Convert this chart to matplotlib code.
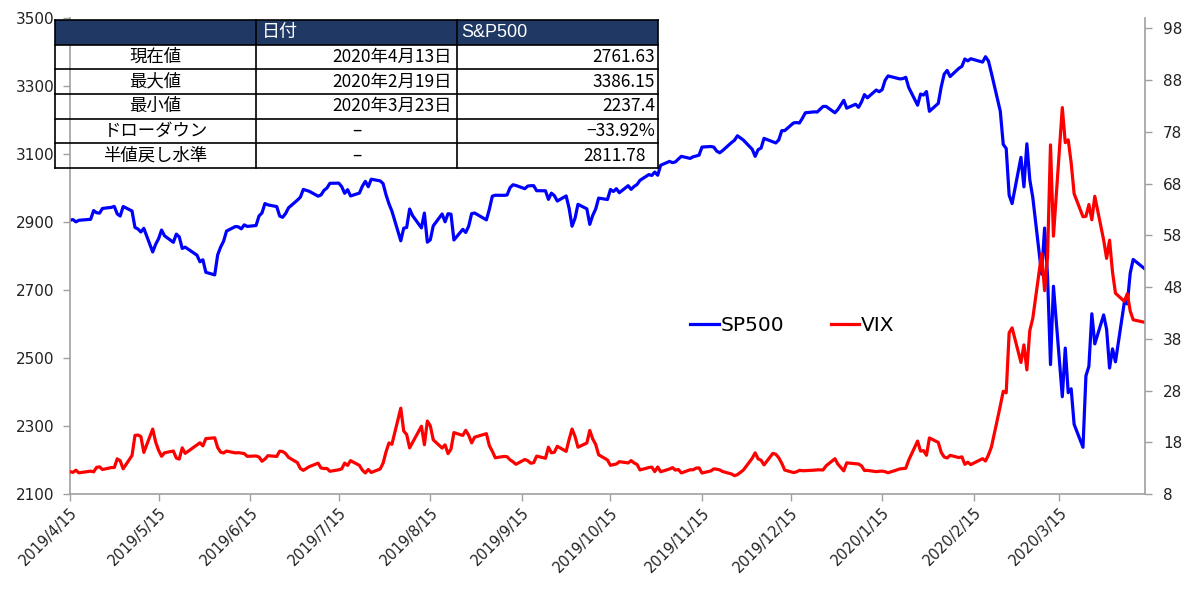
import matplotlib
matplotlib.use('Agg')
import matplotlib.pyplot as plt
from matplotlib.patches import Rectangle
import pandas as pd

# trading days 2019/4/15 - 2020/4/13 (US market holidays removed)
holidays = ['2019-04-19', '2019-05-27', '2019-07-04', '2019-09-02', '2019-11-28',
            '2019-12-25', '2020-01-01', '2020-01-20', '2020-02-17', '2020-04-10']
dates = pd.bdate_range('2019-04-15', '2020-04-13')
dates = dates[~dates.isin(pd.to_datetime(holidays))]

sp500 = [
    # 2019/4
    2905.58, 2907.06, 2900.45, 2905.03, 2907.97, 2933.68, 2927.25, 2926.17, 2939.88, 2943.03, 2945.83,
    # 2019/5
    2923.73, 2917.52, 2945.64, 2932.47, 2884.05, 2879.42, 2870.72, 2881.40, 2811.87, 2834.41, 2850.96,
    2876.32, 2859.53, 2840.23, 2864.36, 2856.27, 2822.24, 2826.06, 2802.39, 2783.02, 2788.86, 2752.06,
    # 2019/6
    2744.45, 2803.27, 2826.15, 2843.49, 2873.34, 2886.73, 2885.72, 2879.84, 2891.64, 2886.98,
    2889.67, 2917.75, 2926.46, 2954.18, 2950.46, 2945.35, 2917.38, 2913.78, 2924.92, 2941.76,
    # 2019/7
    2964.33, 2973.01, 2995.82, 2990.41, 2975.95, 2979.63, 2993.07, 2999.91, 3013.77, 3014.30, 3004.04,
    2984.42, 2995.11, 2976.61, 2985.03, 3005.47, 3019.56, 3003.67, 3025.86, 3020.97, 3013.18, 2980.38,
    # 2019/8
    2953.56, 2932.05, 2844.74, 2881.77, 2883.98, 2938.09, 2918.65, 2882.70, 2926.32, 2840.60, 2847.60,
    2888.68, 2923.65, 2900.51, 2924.43, 2922.95, 2847.11, 2878.38, 2869.16, 2887.94, 2924.58, 2926.46,
    # 2019/9
    2906.27, 2937.78, 2976.00, 2978.71, 2978.43, 2979.39, 3000.93, 3009.57, 3007.39, 2997.96,
    3005.70, 3006.73, 3006.79, 2992.07, 2991.78, 2966.60, 2984.87, 2977.62, 2961.79, 2976.74,
    # 2019/10
    2940.25, 2887.61, 2910.63, 2952.01, 2938.79, 2893.06, 2919.40, 2938.13, 2970.27, 2966.15, 2995.68, 2989.69,
    2997.95, 2986.20, 3006.72, 2995.99, 3004.52, 3010.29, 3022.55, 3039.42, 3036.89, 3046.77, 3037.56,
    # 2019/11
    3066.91, 3078.27, 3074.62, 3076.78, 3085.18, 3093.08, 3087.01, 3091.84, 3094.04, 3096.63,
    3120.46, 3122.03, 3120.18, 3108.46, 3103.54, 3110.29, 3133.64, 3140.52, 3153.63, 3140.98,
    # 2019/12
    3113.87, 3093.20, 3112.76, 3117.43, 3145.91, 3135.96, 3132.52, 3141.63, 3168.57, 3168.80, 3191.45,
    3192.52, 3191.14, 3205.37, 3221.22, 3224.01, 3223.38, 3239.91, 3240.02, 3221.29, 3230.78,
    # 2020/1
    3257.85, 3234.85, 3246.28, 3237.18, 3253.05, 3274.70, 3265.35, 3288.13, 3283.15, 3289.29, 3316.81,
    3329.62, 3320.79, 3321.75, 3325.54, 3295.47, 3243.63, 3276.24, 3273.40, 3283.66, 3225.52,
    # 2020/2
    3248.92, 3297.59, 3334.69, 3345.78, 3327.71, 3352.09, 3357.75, 3379.45, 3373.94, 3380.16,
    3370.29, 3386.15, 3373.23, 3337.75, 3225.89, 3128.21, 3116.39, 2978.76, 2954.22,
    # 2020/3
    3090.23, 3003.37, 3130.12, 3023.94, 2972.37, 2746.56, 2882.23, 2741.38, 2480.64, 2711.02, 2386.13,
    2529.19, 2398.10, 2409.39, 2304.92, 2237.40, 2447.33, 2475.56, 2630.07, 2541.47, 2626.65, 2584.59,
    # 2020/4
    2470.50, 2526.90, 2488.65, 2663.68, 2659.41, 2749.98, 2789.82, 2761.63,
]

vix = [
    # 2019/4
    12.32, 12.18, 12.60, 12.09, 12.42, 12.28, 13.14, 13.25, 12.73, 13.11, 13.12,
    # 2019/5
    14.80, 14.42, 12.87, 15.44, 19.32, 19.40, 19.10, 16.04, 20.55, 18.06, 16.44,
    15.29, 15.96, 16.31, 14.95, 14.75, 16.92, 15.85, 17.50, 17.90, 17.30, 18.71,
    # 2019/6
    18.86, 16.97, 16.09, 15.93, 16.30, 15.94, 15.99, 15.91, 15.82, 15.28,
    15.35, 15.15, 14.33, 14.75, 15.40, 15.26, 16.28, 16.21, 15.82, 15.08,
    # 2019/7
    14.06, 12.93, 12.57, 13.28, 13.96, 13.03, 12.93, 12.93, 12.39, 12.68, 12.86,
    13.97, 13.53, 14.45, 13.53, 12.61, 12.07, 12.74, 12.16, 12.83, 13.94, 16.12,
    # 2019/8
    17.87, 17.61, 24.59, 20.17, 19.49, 16.91, 17.97, 21.09, 17.52, 22.10, 21.18,
    18.47, 16.88, 17.50, 15.80, 16.68, 19.87, 19.32, 20.31, 19.35, 17.88, 18.98,
    # 2019/9
    19.66, 17.33, 16.27, 15.00, 15.27, 15.20, 14.61, 14.22, 13.74, 14.67,
    14.44, 13.95, 14.05, 15.32, 14.91, 17.05, 15.96, 16.07, 17.22, 16.24,
    # 2019/10
    18.56, 20.56, 19.12, 17.04, 17.86, 20.28, 18.64, 17.57, 15.58, 14.57, 13.54, 13.68,
    13.79, 14.25, 14.00, 14.46, 14.01, 13.71, 12.65, 13.11, 13.20, 12.33, 13.22,
    # 2019/11
    12.30, 12.83, 13.10, 12.62, 12.73, 12.07, 12.69, 12.68, 13.00, 13.05,
    12.05, 12.46, 12.86, 12.78, 12.66, 12.34, 11.87, 11.54, 11.75, 12.62,
    # 2019/12
    14.91, 15.96, 14.80, 14.52, 13.62, 15.86, 15.68, 14.99, 13.94, 12.63, 12.14,
    12.29, 12.58, 12.50, 12.51, 12.61, 12.67, 12.65, 13.43, 14.82, 13.78,
    # 2020/1
    12.47, 14.02, 13.85, 13.79, 13.45, 12.54, 12.56, 12.32, 12.39, 12.42, 12.32,
    12.10, 12.85, 12.91, 12.98, 14.56, 18.23, 16.28, 16.39, 15.49, 18.84,
    # 2020/2
    17.97, 16.05, 15.15, 14.96, 15.47, 15.04, 15.18, 13.74, 14.15, 13.68,
    14.83, 14.38, 15.56, 17.08, 25.03, 27.85, 27.56, 39.16, 40.11,
    # 2020/3
    33.42, 36.82, 31.99, 39.62, 41.94, 54.46, 47.30, 53.90, 75.47, 57.83, 82.69,
    75.91, 76.45, 72.00, 66.04, 61.59, 61.67, 63.95, 61.00, 65.54, 57.08, 53.54,
    # 2020/4
    57.06, 50.91, 46.80, 45.24, 46.70, 43.35, 41.67, 41.17,
]

tick_dates = pd.date_range('2019-04-15', '2020-03-15', freq=pd.DateOffset(months=1))
tick_labels = [f'{d.year}/{d.month}/{d.day}' for d in tick_dates]

# summary table
tbl_header = ['', '日付', 'S&P500']
tbl_labels = ['現在値', '最大値', '最小値', 'ドローダウン', '半値戻し水準']
tbl_dates = ['2020年4月13日', '2020年2月19日', '2020年3月23日', '–', '–']
tbl_values = ['2761.63', '3386.15', '2237.4', '−33.92%', '2811.78']

grey = '#A0A0A0'
txt = '#222222'

fig = plt.figure(figsize=(12, 5.96), dpi=100)
ax = fig.add_axes([70 / 1200, 1 - 494 / 596, 1075 / 1200, 476 / 596])
ax2 = ax.twinx()

l1, = ax.plot(dates, sp500, color='#0000FF', lw=2.3, label='SP500')
l2, = ax2.plot(dates, vix, color='#FF0000', lw=2.3, label='VIX')

ax.set_xlim(dates[0], dates[-1])
ax.set_ylim(2100, 3500)
ax.set_yticks(range(2100, 3501, 200))
ax2.set_ylim(8, 100)
ax2.set_yticks(range(8, 99, 10))
ax.set_xticks(tick_dates)
ax.set_xticklabels(tick_labels, rotation=45, ha='right', rotation_mode='anchor')

for a in (ax, ax2):
    a.spines['top'].set_visible(False)
    for s in a.spines.values():
        s.set_color(grey)
        s.set_linewidth(1.2)
    a.tick_params(colors=grey, labelcolor=txt, labelsize=11, length=5, width=1)
ax.spines['right'].set_visible(False)
ax2.spines['left'].set_visible(False)
ax2.spines['bottom'].set_visible(False)
ax.tick_params(axis='x', labelsize=10.5, pad=3)
ax.tick_params(axis='y', pad=6)
ax2.tick_params(axis='y', pad=8)

ax2.legend([l1, l2], ['SP500', 'VIX'], loc='center', bbox_to_anchor=(0.672, 0.353),
           ncol=2, frameon=False, fontsize=14.5, handlelength=1.4, handletextpad=0.1,
           columnspacing=2.3)

# table drawn in its own overlay axes
tab = fig.add_axes([55 / 1200, 1 - 168 / 596, 603 / 1200, 148 / 596])
tab.set_xlim(0, 3)
tab.set_ylim(6, 0)
tab.axis('off')
jp = ['Noto Sans CJK JP', 'DejaVu Sans']
tab.add_patch(Rectangle((0, 0), 3, 1, facecolor='#1F3864', edgecolor='none'))
tab.text(1.03, 0.5, tbl_header[1], color='white', fontsize=13, family=jp, va='center', ha='left')
tab.text(2.02, 0.5, tbl_header[2], color='white', fontsize=13, family='Liberation Sans', va='center', ha='left')
for i in range(len(tbl_labels)):
    y = i + 1.5
    tab.text(0.5, y, tbl_labels[i], fontsize=12.5, family=jp, ha='center', va='center', color='black')
    if tbl_dates[i] == '–':
        tab.text(1.5, y, tbl_dates[i], fontsize=12.5, family=jp, ha='center', va='center', color='black')
    else:
        tab.text(1.975, y, tbl_dates[i], fontsize=12.5, family=jp, ha='right', va='center', color='black')
    xr = 2.94 if i == 4 else 2.985
    tab.text(xr, y, tbl_values[i], fontsize=12.5, family=jp, ha='right', va='center', color='black')
for r in range(7):
    tab.plot([0, 3], [r, r], color='black', lw=1.2, clip_on=False)
for c in range(4):
    tab.plot([c, c], [0, 6], color='black', lw=1.2, clip_on=False)

fig.savefig('out.png', dpi=100)
